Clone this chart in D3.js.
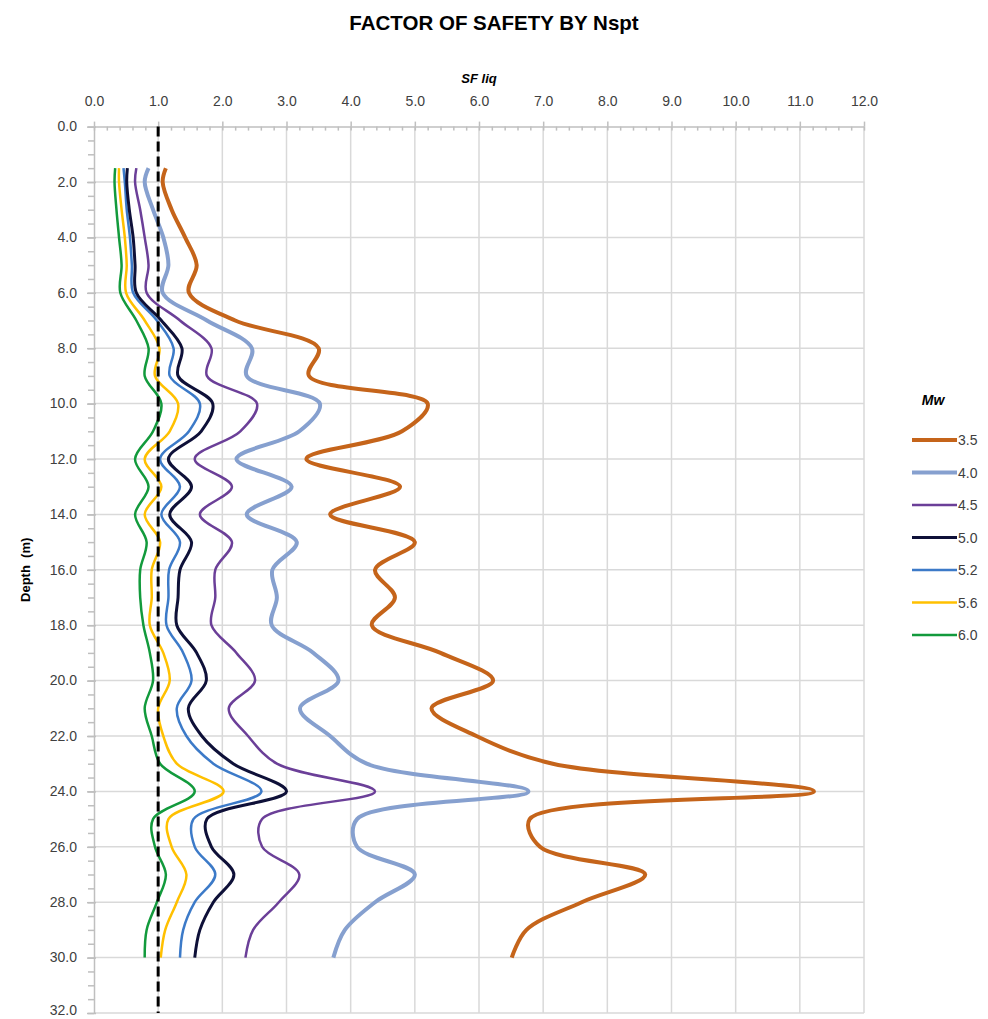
<!DOCTYPE html>
<html>
<head>
<meta charset="utf-8">
<script src="https://cdn.jsdelivr.net/npm/d3@7"></script>
<style>
  body { margin: 0; background: #fff; }
  svg { display: block; font-family: "Liberation Sans", Arial, sans-serif; }
  .grid line { stroke: #d9d9d9; stroke-width: 1.5; }
  .axis path, .axis line { stroke: #bfbfbf; stroke-width: 1.5; }
  .axis text { fill: #404040; font-size: 14px; }
</style>
</head>
<body>
<svg id="chart" width="988" height="1019"></svg>
<script>
// depth of each reading (m)
const depths = [1.5, 2, 3, 4, 5, 6, 7, 8, 9, 10, 11, 12, 13, 14, 15, 16, 17, 18, 19, 20,
  21, 22, 23, 24, 25, 26, 27, 28, 29, 30];

// SF liq per magnitude
const sf35 = [1.12, 1.07, 1.21, 1.42, 1.60, 1.48, 2.20, 3.50, 3.35, 5.20, 4.80, 3.31, 4.77, 3.68, 5.00,
  4.38, 4.69, 4.33, 5.40, 6.22, 5.26, 5.96, 7.15, 11.22, 6.79, 6.95, 8.59, 7.60, 6.74, 6.51];
const sf40 = [0.85, 0.79, 0.92, 1.08, 1.16, 1.07, 1.76, 2.46, 2.38, 3.52, 3.20, 2.22, 3.08, 2.38, 3.16,
  2.78, 2.85, 2.77, 3.42, 3.81, 3.21, 3.68, 4.25, 6.77, 4.10, 4.10, 5.00, 4.38, 3.91, 3.73];
const sf45 = [0.66, 0.64, 0.72, 0.79, 0.85, 0.82, 1.34, 1.83, 1.76, 2.54, 2.28, 1.57, 2.15, 1.65, 2.15,
  1.89, 1.89, 1.83, 2.22, 2.51, 2.10, 2.40, 2.85, 4.38, 2.62, 2.62, 3.20, 2.88, 2.48, 2.36];
const sf50 = [0.52, 0.51, 0.55, 0.61, 0.64, 0.66, 1.05, 1.37, 1.31, 1.85, 1.67, 1.16, 1.52, 1.18, 1.52,
  1.34, 1.31, 1.29, 1.60, 1.75, 1.47, 1.68, 2.17, 3.00, 1.76, 1.83, 2.18, 1.86, 1.65, 1.57];
const sf52 = [0.46, 0.48, 0.51, 0.56, 0.59, 0.61, 0.98, 1.24, 1.18, 1.65, 1.48, 1.03, 1.34, 1.05, 1.34,
  1.17, 1.16, 1.13, 1.39, 1.52, 1.29, 1.44, 1.86, 2.61, 1.55, 1.57, 1.89, 1.57, 1.39, 1.34];
const sf56 = [0.39, 0.39, 0.43, 0.48, 0.51, 0.50, 0.79, 1.02, 0.95, 1.31, 1.18, 0.79, 1.05, 0.79, 1.03,
  0.90, 0.90, 0.87, 1.08, 1.18, 1.00, 1.08, 1.29, 2.02, 1.16, 1.21, 1.44, 1.29, 1.11, 1.04];
const sf60 = [0.33, 0.32, 0.35, 0.39, 0.43, 0.41, 0.66, 0.85, 0.79, 1.05, 0.92, 0.64, 0.85, 0.64, 0.82,
  0.72, 0.72, 0.77, 0.87, 0.92, 0.79, 0.90, 1.03, 1.57, 0.92, 0.95, 1.12, 0.98, 0.82, 0.79];

const magnitudes = ['3.5', '4.0', '4.5', '5.0', '5.2', '5.6', '6.0'];
const seriesValues = [sf35, sf40, sf45, sf50, sf52, sf56, sf60];
const colors = ['#c5641a', '#86a0cf', '#6b3f98', '#0e1038', '#3c7ac8', '#ffc000', '#129a3c'];
const widths = [4, 4, 2.5, 3, 2.5, 2.5, 2.5];

const xTicks = d3.range(0, 12.01, 1);
const yTicks = d3.range(0, 32.01, 2);
const limitSF = 1.0;

const svg = d3.select('#chart');

const x = d3.scaleLinear().domain([0, 12]).range([94, 864]);
const y = d3.scaleLinear().domain([0, 32]).range([126.6, 1013]);

// gridlines
const grid = svg.append('g').classed('grid', true);
grid.selectAll('.vline')
  .data(xTicks.slice(1))
  .enter()
  .append('line')
  .attr('x1', d => x(d))
  .attr('x2', d => x(d))
  .attr('y1', y(0))
  .attr('y2', y(32));
grid.selectAll('.hline')
  .data(yTicks.slice(1))
  .enter()
  .append('line')
  .attr('x1', x(0))
  .attr('x2', x(12))
  .attr('y1', d => y(d))
  .attr('y2', d => y(d));

// axes
const fmt = d3.format('.1f');

svg.append('g')
  .classed('axis', true)
  .attr('transform', `translate(0,${y(0)})`)
  .call(d3.axisTop(x).tickValues(d3.range(0, 12.01, 0.2)).tickSize(-4).tickFormat(''))
  .call(g => g.select('.domain').remove());
svg.append('g')
  .classed('axis', true)
  .attr('transform', `translate(0,${y(0)})`)
  .call(d3.axisTop(x).tickValues(xTicks).tickSize(5).tickPadding(16).tickSizeOuter(0).tickFormat(fmt));

svg.append('g')
  .classed('axis', true)
  .attr('transform', `translate(${x(0)},0)`)
  .call(d3.axisLeft(y).tickValues(d3.range(0, 32.01, 0.5)).tickSize(6).tickFormat(''))
  .call(g => g.select('.domain').remove());
svg.append('g')
  .classed('axis', true)
  .attr('transform', `translate(${x(0)},0)`)
  .call(d3.axisLeft(y).tickValues(yTicks).tickSize(7).tickPadding(10).tickSizeOuter(0).tickFormat(fmt))
  .call(g => g.selectAll('.tick line').attr('x2', -7).attr('x1', 2))
  .call(g => g.selectAll('.tick text').attr('dy', d => d === 32 ? '0.1em' : '0.3em'));

// curves, smoothed like the spreadsheet's
const lineFunction = d3.line()
  .x(d => x(d[0]))
  .y(d => y(d[1]))
  .curve(d3.curveCatmullRom.alpha(0.5));

const series = magnitudes.map((m, i) => ({
  name: m,
  color: colors[i],
  width: widths[i],
  points: depths.map((dep, j) => [seriesValues[i][j], dep])
}));

svg.append('g')
  .selectAll('path')
  .data(series.slice().reverse())
  .enter()
  .append('path')
  .attr('fill', 'none')
  .attr('stroke', d => d.color)
  .attr('stroke-width', d => d.width)
  .attr('stroke-linejoin', 'round')
  .attr('d', d => lineFunction(d.points));

// SF = 1 limit
svg.append('line')
  .attr('x1', x(limitSF))
  .attr('x2', x(limitSF))
  .attr('y1', y(0))
  .attr('y2', y(32))
  .attr('stroke', '#000')
  .attr('stroke-width', 3)
  .attr('stroke-dasharray', '10,5');

// titles
svg.append('text')
  .attr('x', 494)
  .attr('y', 30)
  .attr('text-anchor', 'middle')
  .attr('font-size', 20.5)
  .attr('font-weight', 'bold')
  .attr('fill', '#000')
  .text('FACTOR OF SAFETY BY Nspt');

svg.append('text')
  .attr('x', (x(0) + x(12)) / 2)
  .attr('y', 83)
  .attr('text-anchor', 'middle')
  .attr('font-size', 13)
  .attr('font-weight', 'bold')
  .attr('font-style', 'italic')
  .attr('fill', '#000')
  .text('SF liq');

svg.append('text')
  .attr('transform', `translate(30,${(y(0) + y(32)) / 2}) rotate(-90)`)
  .attr('text-anchor', 'middle')
  .attr('font-size', 13)
  .attr('font-weight', 'bold')
  .attr('fill', '#000')
  .style('white-space', 'pre')
  .text('Depth  (m)');

// legend
const legend = svg.append('g');
legend.append('text')
  .attr('x', 933)
  .attr('y', 405)
  .attr('text-anchor', 'middle')
  .attr('font-size', 14)
  .attr('font-weight', 'bold')
  .attr('font-style', 'italic')
  .text('Mw');

const items = legend.selectAll('.item')
  .data(series)
  .enter()
  .append('g')
  .attr('transform', (d, i) => `translate(0,${440 + i * 32.5})`);
items.append('line')
  .attr('x1', 912)
  .attr('x2', 957)
  .attr('stroke', d => d.color)
  .attr('stroke-width', d => d.width);
items.append('text')
  .attr('x', 958)
  .attr('y', 5)
  .attr('font-size', 14)
  .attr('fill', '#404040')
  .text(d => d.name);
</script>
</body>
</html>
